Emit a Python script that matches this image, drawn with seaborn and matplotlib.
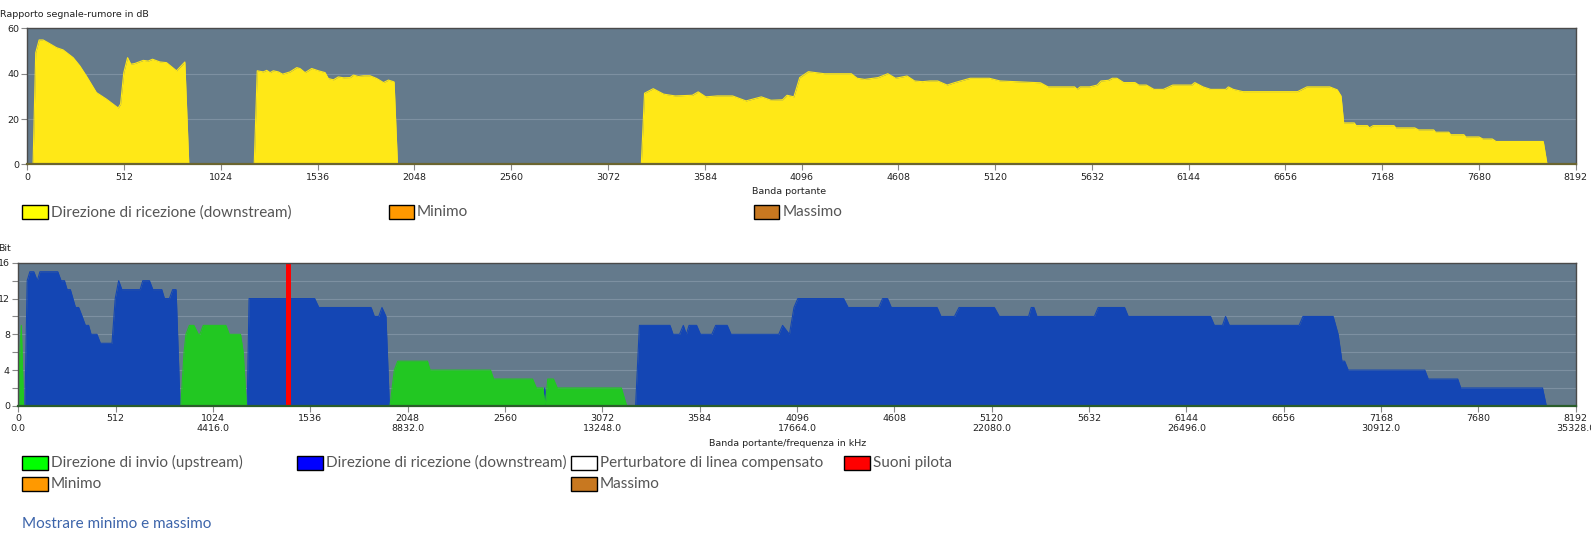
import numpy as np
import matplotlib
matplotlib.use("Agg")
import matplotlib.pyplot as plt
import seaborn as sns
from matplotlib.patches import Rectangle

# Signal-to-noise ratio per carrier (downstream)
snr_carrier = [30, 44, 62, 83, 109, 154, 189, 242, 277, 312, 365, 418, 480, 493, 510, 530, 547, 568, 613, 639,
               662, 701, 736, 789, 833, 854,
               1200, 1216, 1248, 1266, 1284, 1301, 1328, 1350, 1389, 1425, 1442, 1469, 1504, 1540, 1575, 1592,
               1619, 1645, 1672, 1707, 1725, 1751, 1778, 1813, 1848, 1884, 1910, 1940, 1958,
               3248, 3265, 3311, 3366, 3427, 3518, 3549, 3589, 3650, 3731, 3802, 3883, 3934, 3995, 4019, 4055,
               4086, 4132, 4217, 4359, 4390, 4430, 4501, 4552, 4593, 4654, 4694, 4735, 4775, 4816, 4866, 4907,
               4988, 5089, 5146,
               5360, 5400, 5540, 5554, 5570, 5620, 5660, 5680, 5720, 5740, 5764, 5800, 5860, 5880, 5920, 5960,
               6010, 6060, 6160, 6176, 6220, 6260, 6340, 6354, 6380, 6430, 6720, 6770, 6890, 6930, 6950, 6964,
               7020, 7030, 7090, 7100, 7120, 7230, 7240, 7340, 7360, 7440, 7450, 7520, 7530, 7600, 7610, 7680,
               7700, 7750, 7770, 8020, 8040]
snr_db = [0, 49.3, 54.9, 54.9, 53.7, 51.5, 50.5, 47.1, 43.5, 39.0, 31.7, 28.8, 24.9, 26.6, 40.5, 47.1, 44.2,
          44.5, 45.9, 45.6, 46.4, 45.2, 44.9, 41.3, 45.2, 0,
          0, 41.3, 40.8, 41.5, 40.5, 41.3, 40.8, 39.8, 40.8, 42.7, 42.3, 40.5, 42.3, 41.3, 40.5, 37.9, 37.3,
          38.6, 38.2, 38.3, 39.4, 38.8, 39.1, 39.1, 37.9, 36.1, 37.2, 36.4, 0,
          0, 31.4, 33.4, 31.0, 30.2, 30.5, 32.0, 29.8, 30.2, 30.2, 28.0, 29.8, 28.3, 28.5, 30.5, 29.8, 38.3,
          40.9, 40.0, 40.0, 38.0, 37.5, 38.3, 40.0, 38.0, 39.0, 36.8, 36.5, 36.8, 36.8, 35.0, 36.1, 38.0,
          38.0, 36.8,
          36.0, 34.2, 34.2, 33.1, 34.2, 34.2, 35.0, 36.8, 37.1, 38.0, 38.0, 36.1, 36.1, 35.0, 35.0, 33.1,
          33.1, 35.0, 35.0, 36.1, 34.2, 33.1, 33.1, 34.2, 33.1, 32.1, 32.1, 34.2, 34.2, 32.9, 30.2, 18.3,
          18.3, 17.1, 17.1, 16.1, 17.1, 17.1, 16.1, 16.1, 15.2, 15.2, 14.2, 14.2, 13.1, 13.1, 12.1, 12.1,
          11.2, 11.2, 10.1, 10.1, 0]

# Bit loading: upstream (green)
us_carrier = [2, 8, 16, 28,
              855, 872, 882, 900, 924, 947, 955, 973, 1092, 1110, 1169, 1183, 1200,
              1955, 1978, 1996, 2152, 2166, 2484, 2500, 2705, 2725, 2759, 2771, 2785, 2815, 2835, 3172, 3200]
us_bits = [0, 6, 9, 0,
           0, 6, 8, 9, 9, 8, 8, 9, 9, 8, 8, 6, 0,
           0, 4, 5, 5, 4, 4, 3, 3, 2, 2, 0, 3, 3, 2, 2, 0]

# Bit loading: downstream (blue)
ds_carrier = [35, 47, 61, 73, 82, 100, 114, 208, 225, 243, 257, 274, 301, 318, 336, 353, 370, 383, 414, 432,
              493, 510, 528, 545, 641, 655, 690, 708, 755, 769, 795, 812, 830, 851,
              1204, 1214, 1559, 1581, 1856, 1873, 1896, 1913, 1934, 1952,
              2761, 2769, 2777,
              3247, 3267, 3428, 3444, 3478, 3498, 3514, 3528, 3568, 3588, 3648, 3668, 3729, 3749, 4000, 4020,
              4056, 4080, 4100, 4341, 4365, 4526, 4546, 4572, 4592, 4833, 4853, 4924, 4948, 5134, 5160, 5314,
              5328, 5342, 5358, 5660, 5680, 5819, 5838, 6271, 6291, 6334, 6350, 6370, 6737, 6757, 6916, 6942,
              6962, 6976, 6995, 7398, 7416, 7571, 7587, 8017, 8037]
ds_bits = [0, 14, 15, 15, 15, 14, 15, 15, 14, 14, 13, 13, 11, 11, 10, 9, 9, 8, 8, 7,
           7, 12, 14, 13, 13, 14, 14, 13, 13, 12, 12, 13, 13, 0,
           0, 12, 12, 11, 11, 10, 10, 11, 10, 0,
           0, 2, 0,
           0, 9, 9, 8, 8, 9, 8, 9, 9, 8, 8, 9, 9, 8, 8, 9,
           8, 11, 12, 12, 11, 11, 12, 12, 11, 11, 10, 10, 11, 11, 10, 10,
           11, 11, 10, 10, 11, 11, 10, 10, 9, 9, 10, 9, 9, 10, 10, 8,
           5, 5, 4, 4, 3, 3, 2, 2, 0]

# Pilot tone
pilot_carrier = [1421]
pilot_bits = [16]

# Axis ticks
carrier_ticks = list(range(0, 8193, 512))
khz_per_carrier = 4.3125

BG = "#647a8c"
GRID = "#7d90a1"
YELLOW = "#ffe817"
BLUE = "#1446b4"
GREEN = "#22c722"
RED = "#ff0000"

sns.set_theme(style="white")
plt.rcParams['font.family'] = ['DejaVu Sans']

W, H = 1591, 541
# layout was measured on a 1568 px wide view of the page
VW = 1568
VH = H * VW / W
fig = plt.figure(figsize=(W / 100, H / 100), dpi=100)


def px_axes(left, top, right, bottom):
    return fig.add_axes([left / VW, 1 - bottom / VH, (right - left) / VW, (bottom - top) / VH])


def style_axes(ax, bottom_color):
    ax.set_facecolor(BG)
    for side in ["top", "right", "left"]:
        ax.spines[side].set_color("#4a4a4a")
        ax.spines[side].set_linewidth(1.0)
    ax.spines["bottom"].set_color(bottom_color)
    ax.spines["bottom"].set_linewidth(1.6)
    ax.tick_params(axis="both", which="both", direction="out", length=4, width=0.8,
                   color="#888888", labelsize=6.8, labelcolor="#222222", pad=2,
                   bottom=True, left=True)
    ax.set_xlim(0, 8192)
    ax.set_xticks(carrier_ticks)


# ---- top chart: SNR ----
ax1 = px_axes(27, 28, 1553, 162)
style_axes(ax1, "#6b6530")
ax1.set_ylim(0, 60)
ax1.set_yticks([0, 20, 40, 60])
for g in [20, 40]:
    ax1.axhline(g, color=GRID, lw=0.8, zorder=0.5)
ax1.fill_between(snr_carrier, snr_db, 0, color=YELLOW, lw=0, zorder=1)
sns.lineplot(x=snr_carrier, y=snr_db, ax=ax1, color=YELLOW, lw=0.8, sort=False, zorder=1.2)
ax1.set_xticklabels([str(c) for c in carrier_ticks])
ax1.set_xlabel("Banda portante", fontsize=6.8, color="#222222")
ax1.xaxis.set_label_coords(0.4916, -0.17)
ax1.set_ylabel("")

# ---- bottom chart: bits ----
ax2 = px_axes(18, 259, 1553, 400)
style_axes(ax2, "#2b5e2b")
ax2.set_ylim(0, 16)
ax2.set_yticks([0, 4, 8, 12, 16])
ax2.set_yticks([2, 6, 10, 14], minor=True)
ax2.tick_params(axis="y", which="minor", length=4)
for g in range(2, 16, 2):
    ax2.axhline(g, color=GRID, lw=0.8, zorder=0.5)
ax2.fill_between(ds_carrier, ds_bits, 0, color=BLUE, lw=0, zorder=1)
sns.lineplot(x=ds_carrier, y=ds_bits, ax=ax2, color=BLUE, lw=0.8, sort=False, zorder=1.1)
ax2.fill_between(us_carrier, us_bits, 0, color=GREEN, lw=0, zorder=1.2)
sns.lineplot(x=us_carrier, y=us_bits, ax=ax2, color=GREEN, lw=0.8, sort=False, zorder=1.3)
ax2.bar(pilot_carrier, pilot_bits, width=28, color=RED, linewidth=0, zorder=1.5)
ax2.set_xticklabels([f"{c}\n{c * khz_per_carrier:.1f}" if c % 1024 == 0 else str(c) for c in carrier_ticks],
                    linespacing=1.05)
ax2.set_xlabel("Banda portante/frequenza in kHz", fontsize=6.8, color="#222222")
ax2.xaxis.set_label_coords(0.494, -0.235)
ax2.set_ylabel("")

# ---- overlay for titles and legends in (view) pixel coordinates ----
ov = fig.add_axes([0, 0, 1, 1])
ov.set_xlim(0, VW)
ov.set_ylim(VH, 0)
ov.axis("off")
ov.patch.set_alpha(0)

ov.text(0, 14, "Rapporto segnale-rumore in dB", fontsize=6.8, color="#222222", va="center", ha="left")
ov.text(-2, 245, "Bit", fontsize=6.8, color="#222222", va="center", ha="left")

LEG_FONT = dict(fontsize=11, color="#555555", va="center", ha="left", family=["Lato", "DejaVu Sans"])


def legend_item(x, y, color, label):
    ov.add_patch(Rectangle((x, y - 7), 25, 14, facecolor=color, edgecolor="black", lw=1))
    ov.text(x + 28, y, label, **LEG_FONT)


legend_item(22, 209, "#ffff00", "Direzione di ricezione (downstream)")
legend_item(383, 209, "#ff9900", "Minimo")
legend_item(743, 209, "#c87820", "Massimo")

legend_item(22, 456, "#00ff00", "Direzione di invio (upstream)")
legend_item(293, 456, "#0000ff", "Direzione di ricezione (downstream)")
legend_item(563, 456, "#ffffff", "Perturbatore di linea compensato")
legend_item(832, 456, "#ff0000", "Suoni pilota")
legend_item(22, 477, "#ff9900", "Minimo")
legend_item(563, 477, "#c87820", "Massimo")

ov.text(22, 516, "Mostrare minimo e massimo", fontsize=11, color="#3c64aa", va="center", ha="left",
        family=["Lato", "DejaVu Sans"])

fig.savefig("out.png", dpi=100, facecolor="white")
